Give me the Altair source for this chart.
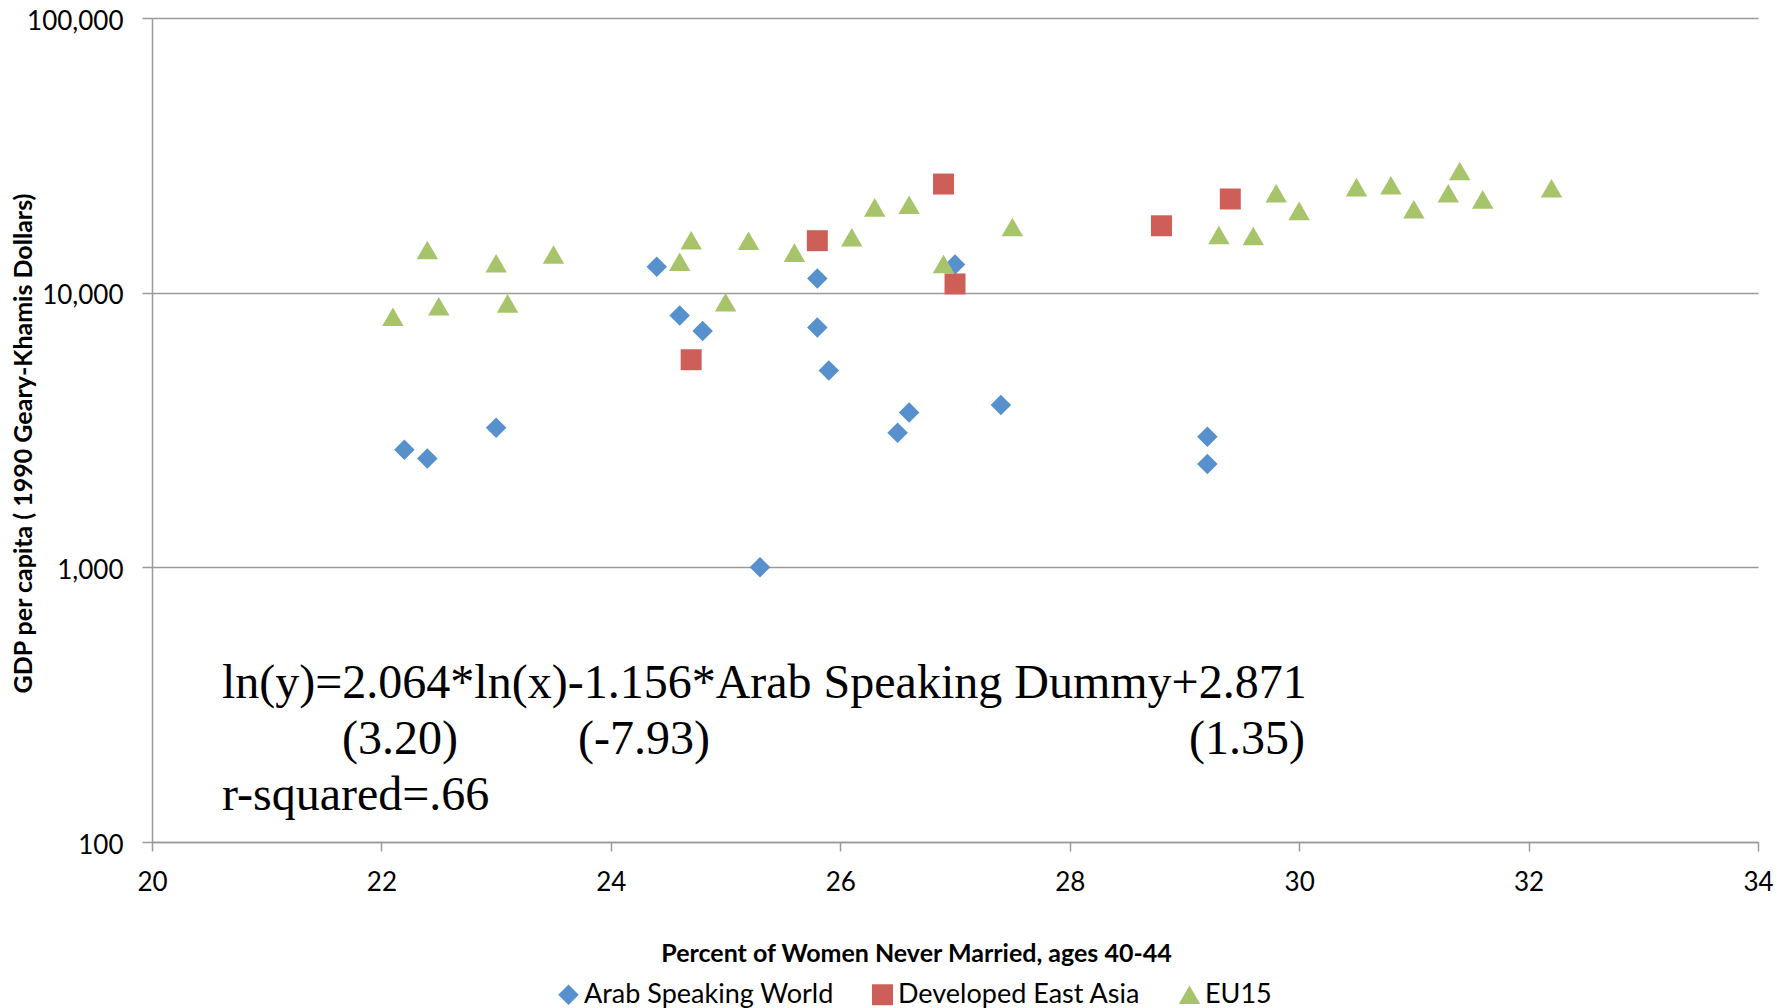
import altair as alt
import pandas as pd

# ---- data ----
groups = ["Arab Speaking World", "Developed East Asia", "EU15"]
colors = ["#5690CD", "#CD5F58", "#A8C46B"]
shapes = ["diamond", "square", "triangle-up"]

arab_x = [22.2, 22.4, 23.0, 24.4, 24.6, 24.8, 25.3, 25.8, 25.8, 25.9, 26.5, 26.6, 27.0, 27.4, 29.2, 29.2]
arab_y = [2680, 2490, 3220, 12430, 8250, 7250, 1000, 11250, 7460, 5210, 3090, 3660, 12660, 3900, 2990, 2380]

asia_x = [24.7, 25.8, 26.9, 27.0, 28.8, 29.4]
asia_y = [5700, 15460, 24860, 10760, 17520, 21930]

eu_x = [22.1, 22.4, 22.5, 23.0, 23.1, 23.5, 24.6, 24.7, 25.0, 25.2, 25.6, 26.1, 26.3, 26.6,
        26.9, 27.5, 29.3, 29.6, 29.8, 30.0, 30.5, 30.8, 31.0, 31.3, 31.4, 31.6, 32.2]
eu_y = [8170, 14310, 8930, 12790, 9140, 13770, 12960, 15510, 9225, 15460, 13990, 15910, 20440, 20900,
        12710, 17340, 16220, 16090, 23000, 19850, 24230, 24610, 20110, 23000, 27730, 21860, 23990]

x_ticks = [20, 22, 24, 26, 28, 30, 32, 34]
y_ticks = [100, 1000, 10000, 100000]

note_lines = ["ln(y)=2.064*ln(x)-1.156*Arab Speaking Dummy+2.871", "(3.20)", "(-7.93)", "(1.35)", "r-squared=.66"]

rows = []
for g, xs, ys in [(groups[0], arab_x, arab_y), (groups[1], asia_x, asia_y), (groups[2], eu_x, eu_y)]:
    for a, b in zip(xs, ys):
        rows.append({"group": g, "x": a, "y": b})
df = pd.DataFrame(rows)

# annotation anchor points (data coordinates)
note_x = [20.61, 21.656, 23.714, 29.04, 20.61]
note_y = [334.4, 209.2, 209.2, 209.2, 130.8]
notes = pd.DataFrame({"text": note_lines, "x": note_x, "y": note_y})

grey = "#9a9a9a"

xscale = alt.Scale(domain=[20, 34], nice=False, zero=False)
yscale = alt.Scale(type="log", domain=[100, 100000], nice=False)

leg = alt.Legend(
    title=None, orient="none", legendX=403, legendY=963, direction="horizontal",
    labelFont="Lato", labelFontSize=27, labelColor="black", labelLimit=0, symbolSize=230,
    labelOffset=2, columnPadding=35, symbolStrokeWidth=0, padding=0,
)

points = alt.Chart(df).mark_point(filled=True, opacity=1).encode(
    x=alt.X("x:Q", scale=xscale, axis=alt.Axis(
        values=x_ticks, format="d", title="Percent of Women Never Married, ages 40-44", grid=False,
        tickSize=9, tickColor=grey, tickWidth=1.5, domainColor=grey, domainWidth=1.5,
        labelFont="Lato", labelFontSize=26, labelColor="black", labelPadding=18, labelFlush=False,
        titleFont="Lato", titleFontSize=25, titleFontWeight="bold", titleColor="black",
        titleX=764, titleY=111, titleBaseline="middle", titleAlign="center",
    )),
    y=alt.Y("y:Q", scale=yscale, axis=alt.Axis(
        values=y_ticks, format=",", title="GDP per capita ( 1990 Geary-Khamis Dollars)",
        grid=True, gridColor=grey, gridWidth=1.5,
        tickSize=10, tickColor=grey, tickWidth=1.5, domainColor=grey, domainWidth=1.5,
        labelFont="Lato", labelFontSize=26, labelColor="black", labelPadding=19, labelOffset=3,
        titleFont="Lato", titleFontSize=25, titleFontWeight="bold", titleColor="black",
        titleX=-129, titleY=425, titleBaseline="middle", titleAlign="center",
    )),
    color=alt.Color("group:N", scale=alt.Scale(domain=groups, range=colors), legend=leg),
    shape=alt.Shape("group:N", scale=alt.Scale(domain=groups, range=shapes), legend=leg),
    size=alt.Size("group:N", scale=alt.Scale(domain=groups, range=[420, 460, 500]), legend=None),
)

texts = alt.Chart(notes).mark_text(
    font="Liberation Serif", fontSize=48, align="left", baseline="alphabetic", color="black"
).encode(
    x=alt.X("x:Q", scale=xscale),
    y=alt.Y("y:Q", scale=yscale),
    text="text:N",
)

chart = alt.layer(points, texts).properties(
    width=1606, height=824,
    padding={"left": 144, "top": 10, "right": 22, "bottom": 166},
    autosize=alt.AutoSizeParams(type="none"),
    background="white",
).configure_view(stroke=None)

chart.save("out.html", embed_options={"renderer": "svg", "actions": False})
